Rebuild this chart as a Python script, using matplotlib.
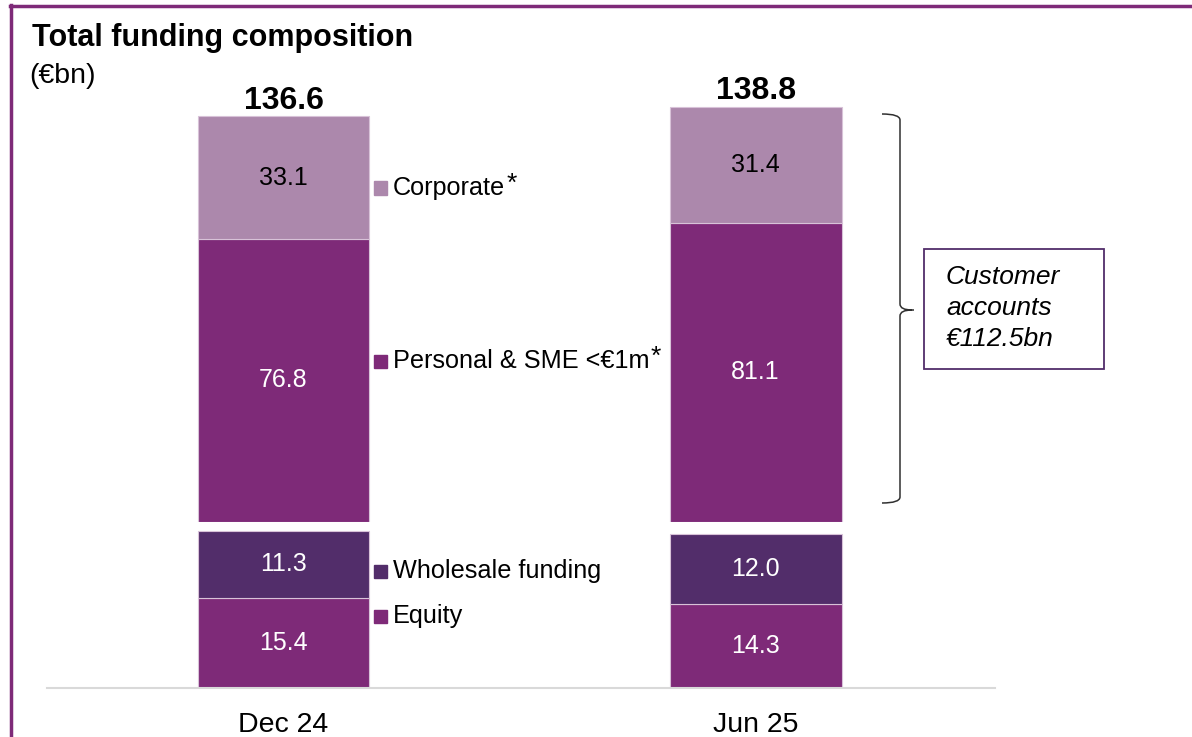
'''
Total funding composition
stacked bars with a split scale
'''

######################################

import numpy as np
import matplotlib.pyplot as plt
from matplotlib.lines import Line2D
from matplotlib.patches import Rectangle, PathPatch
from matplotlib.path import Path

######################################

periods=['Dec 24','Jun 25']
totals=[136.6,138.8]
corporate=[33.1,31.4]
personal=[76.8,81.1]
wholesale=[11.3,12.0]
equity=[15.4,14.3]
customerNote='Customer\naccounts\n€112.5bn'

cCorp='#AC88AC'
cPers='#7E2A78'
cWhole='#522D6A'
cEq='#7E2A78'
edge='#D8C2D8'

plt.rcParams['font.family']=['Liberation Sans','DejaVu Sans']

W,H=1192,737
fig=plt.figure(figsize=(W/100,H/100),dpi=100)

def fx(px):
  return px/W
def fy(py):
  return 1-py/H

######################################
# axes: lower part (equity+wholesale) and upper part (customer accounts)

axLo=fig.add_axes([fx(47),fy(688),fx(995)-fx(47),158.5/H])
axUp=fig.add_axes([fx(47),fy(522),fx(995)-fx(47),462/H])

x=np.arange(len(periods))
bw=0.364

for ax in [axLo,axUp]:
  ax.set_xlim(-0.501,1.507)
  for s in ['top','right','left','bottom']:
    ax.spines[s].set_visible(False)
  ax.set_yticks([])
  ax.patch.set_alpha(0)

axLo.set_ylim(0,27)
axUp.set_ylim(0,125.2)

# baseline
axLo.spines['bottom'].set_visible(True)
axLo.spines['bottom'].set_color('#D9D9D9')
axLo.spines['bottom'].set_linewidth(1.5)
axLo.set_xticks(x)
axLo.set_xticklabels(periods,fontsize=20.5)
axLo.tick_params(axis='x',length=0,pad=17)
axUp.set_xticks([])

# lower stack
b1=axLo.bar(x,equity,bw,color=cEq,edgecolor=edge,linewidth=0.8)
b2=axLo.bar(x,wholesale,bw,bottom=equity,color=cWhole,edgecolor=edge,linewidth=0.8)

# upper stack
b3=axUp.bar(x,personal,bw,color=cPers,edgecolor=edge,linewidth=0.8)
b4=axUp.bar(x,corporate,bw,bottom=personal,color=cCorp,edgecolor=edge,linewidth=0.8)

# segment values
fsVal=18
for i in range(len(periods)):
  axLo.text(x[i],equity[i]/2,'%.1f'%equity[i],ha='center',va='center',color='white',fontsize=fsVal)
  axLo.text(x[i],equity[i]+wholesale[i]/2,'%.1f'%wholesale[i],ha='center',va='center',color='white',fontsize=fsVal)
  axUp.text(x[i],personal[i]/2,'%.1f'%personal[i],ha='center',va='center',color='white',fontsize=fsVal)
  axUp.text(x[i],personal[i]+corporate[i]/2,'%.1f'%corporate[i],ha='center',va='center',color='black',fontsize=fsVal)
  axUp.annotate('%.1f'%totals[i],xy=(x[i],personal[i]+corporate[i]),xytext=(0,5.5),
                textcoords='offset points',ha='center',va='baseline',fontsize=23,fontweight='bold')

######################################
# series labels beside first bar

labs=[('Corporate',cCorp,188,True),('Personal & SME <€1m',cPers,361,True),
      ('Wholesale funding',cWhole,571,False),('Equity',cEq,616,False)]
for txt,col,py,star in labs:
  fig.add_artist(Rectangle((fx(374),fy(py)-6.5/H),13/W,13/H,color=col,transform=fig.transFigure))
  t=fig.text(fx(393),fy(py),txt,ha='left',va='center',fontsize=18.2)
  if star:
    axUp.annotate('*',xy=(1.0,1.0),xycoords=t,xytext=(1,-6),textcoords='offset points',
                  ha='left',va='center',fontsize=19)

######################################
# curly brace and note box

def brace(x0,x1,y0,y1,ym):
  # right pointing curly brace in figure pixels
  xm=(x0+x1)/2+3
  verts=[(x0,y0),(xm,y0),(xm,y0+6),
         (xm,ym-6),
         (xm,ym),(x1,ym),(x1+2,ym),
         (x1,ym),(xm,ym),(xm,ym+6),
         (xm,y1-6),
         (xm,y1),(x0,y1)]
  codes=[Path.MOVETO,Path.CURVE3,Path.CURVE3,
         Path.LINETO,
         Path.CURVE3,Path.CURVE3,Path.LINETO,
         Path.MOVETO,Path.CURVE3,Path.CURVE3,
         Path.LINETO,
         Path.CURVE3,Path.CURVE3]
  verts=[(fx(a),fy(b)) for a,b in verts]
  return PathPatch(Path(verts,codes),facecolor='none',edgecolor='#303030',lw=1.1,transform=fig.transFigure)

fig.add_artist(brace(882,912,114,503,310))

fig.add_artist(Rectangle((fx(924),fy(369)),(1104-924)/W,(369-249)/H,facecolor='none',
                         edgecolor=cWhole,lw=1.3,transform=fig.transFigure))
fig.text(fx(946),fy(308),customerNote,ha='left',va='center',fontsize=19,style='italic',linespacing=1.36)

######################################
# titles and frame

fig.text(fx(32),fy(38),'Total funding composition',ha='left',va='center',fontsize=22,fontweight='bold')
fig.text(fx(29),fy(76),'(€bn)',ha='left',va='center',fontsize=20.5)

fig.add_artist(Line2D([fx(11),fx(11)],[fy(5),0],color=cPers,lw=2.5,transform=fig.transFigure))
fig.add_artist(Line2D([fx(10),1],[fy(6),fy(6)],color=cPers,lw=2.5,transform=fig.transFigure))

fig.savefig('out.png',dpi=100)
